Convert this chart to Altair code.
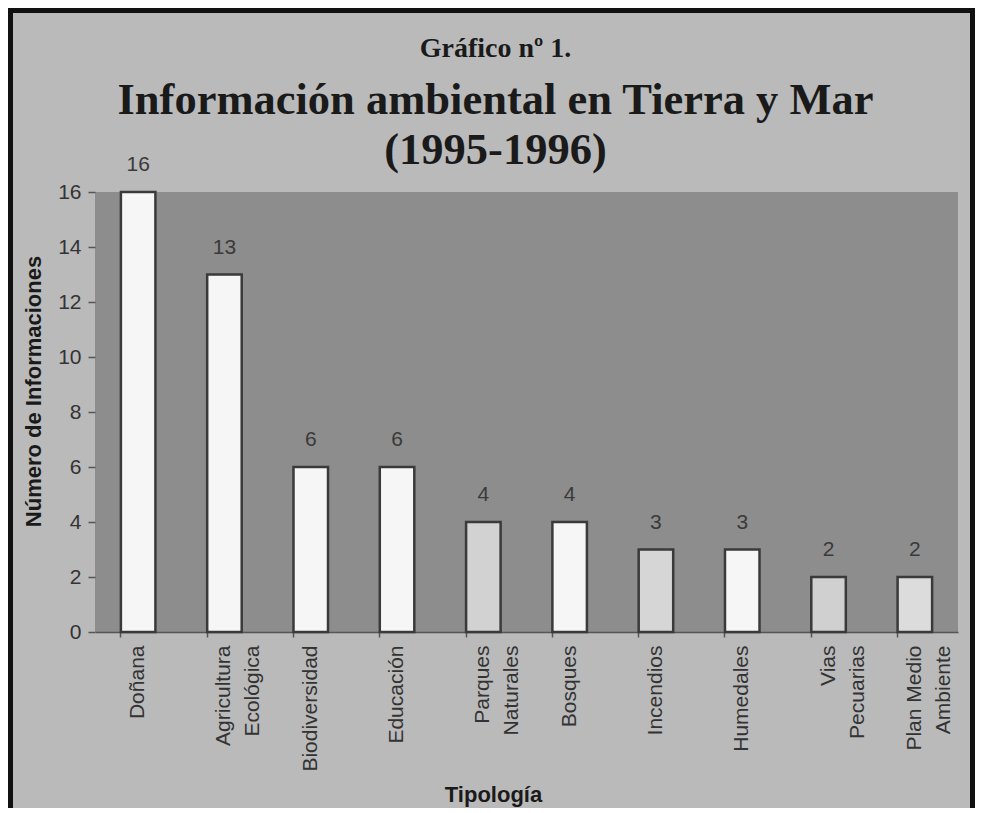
import altair as alt
import pandas as pd

categories = ["Doñana", "Agricultura Ecológica", "Biodiversidad", "Educación",
              "Parques Naturales", "Bosques", "Incendios", "Humedales",
              "Vias Pecuarias", "Plan Medio Ambiente"]
values = [16, 13, 6, 6, 4, 4, 3, 3, 2, 2]
y_ticks = [0, 2, 4, 6, 8, 10, 12, 14, 16]

BAR_FILLS = ["#f6f6f6", "#f6f6f6", "#f6f6f6", "#f6f6f6", "#d2d2d2",
             "#f6f6f6", "#d6d6d6", "#f6f6f6", "#d0d0d0", "#dcdcdc"]

df = pd.DataFrame({"Tipología": categories, "n": values})

W, H = 863, 440

x_enc = alt.X(
    "Tipología:N", sort=categories,
    scale=alt.Scale(paddingInner=0.6, paddingOuter=0.3),
    axis=alt.Axis(
        title="Tipología", labelAngle=-90, bandPosition=0,
        labelExpr="datum.label == 'Plan Medio Ambiente' ? ['Plan Medio', 'Ambiente'] : split(datum.label, ' ')",
        labelFont="Liberation Sans", labelFontSize=21, labelColor="#333333",
        labelLineHeight=29, labelPadding=8, labelBaseline="middle", labelAlign="right",
        tickSize=5, tickColor="#555555", tickWidth=1.5,
        domainColor="#555555", domainWidth=1.5,
        titleFont="Liberation Sans", titleFontSize=22, titleFontWeight="bold",
        titleColor="#1a1a1a", titleX=398, titleY=169, titleBaseline="alphabetic",
        titleAnchor="start", titleAlign="center",
    ),
)

y_enc = alt.Y(
    "n:Q", scale=alt.Scale(domain=[0, 16], nice=False),
    axis=alt.Axis(
        title="Número de Informaciones", values=y_ticks, grid=False, domain=False,
        labelFont="Liberation Sans", labelFontSize=21, labelColor="#333333",
        labelPadding=7, tickSize=7, tickColor="#555555", tickWidth=1.5,
        titleFont="Liberation Sans", titleFontSize=22, titleFontWeight="bold",
        titleColor="#1a1a1a", titlePadding=12, titleY=199,
    ),
)

bars = alt.Chart(df).mark_bar(stroke="#3a3a3a", strokeWidth=2.5).encode(
    x=x_enc, y=y_enc,
    fill=alt.Fill("Tipología:N", scale=alt.Scale(domain=categories, range=BAR_FILLS), legend=None),
)

labels = alt.Chart(df).mark_text(
    dy=-27, baseline="middle", font="Liberation Sans", fontSize=21, color="#3a3a3a"
).encode(x=alt.X("Tipología:N", sort=categories), y="n:Q", text="n:Q")

frame = alt.Chart(df).mark_rect(fill=None, stroke="#111111", strokeWidth=5).encode(
    x=alt.value(-85), x2=alt.value(W + 15), y=alt.value(-182), y2=alt.value(H + 260)
)

chart = alt.layer(bars, labels, frame).properties(
    width=W, height=H,
    title=alt.TitleParams(
        text="Gráfico nº 1.",
        subtitle=["Información ambiental en Tierra y Mar", "(1995-1996)"],
        font="Liberation Serif", fontSize=28, fontWeight="bold", color="#1a1a1a",
        subtitleFont="Liberation Serif", subtitleFontSize=44.5, subtitleFontWeight="bold",
        subtitleColor="#1a1a1a", subtitleLineHeight=50, subtitlePadding=16,
        anchor="middle", dx=-31, offset=-165,
    ),
    background="#bababa",
    padding={"left": 87, "top": 184, "right": 17, "bottom": 176},
    autosize=alt.AutoSizeParams(type="none"),
).configure_view(fill="#8d8d8d", stroke=None)

chart.save("out.html", embed_options={"renderer": "svg", "actions": False})
